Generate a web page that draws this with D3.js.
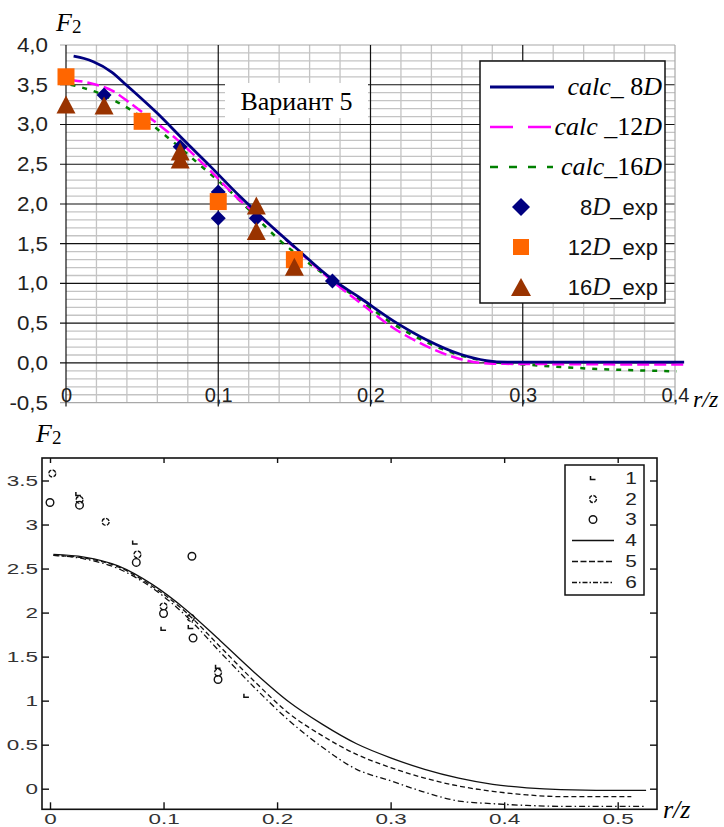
<!DOCTYPE html>
<html><head><meta charset="utf-8">
<script src="https://cdn.jsdelivr.net/npm/d3@7/dist/d3.min.js"></script>
<style>body{margin:0;background:#fff}</style>
</head><body><svg id="c" width="724" height="827"></svg>
<script>
// ===== TOP CHART DATA =====
const calc8D_r  = [0.005,0.012,0.018,0.03,0.04,0.06,0.077,0.095,0.114,0.125,0.136,0.149,0.175,0.193,0.215,0.237,0.259,0.276,0.29,0.35,0.406];
const calc8D_F  = [3.86,3.83,3.79,3.66,3.49,3.14,2.81,2.47,2.10,1.90,1.70,1.48,1.05,0.82,0.53,0.29,0.11,0.03,0.01,0.01,0.01];
const calc12D_r = [0.003,0.018,0.031,0.042,0.062,0.073,0.092,0.114,0.136,0.149,0.175,0.193,0.215,0.237,0.257,0.28,0.406];
const calc12D_F = [3.56,3.51,3.42,3.27,2.98,2.81,2.47,2.05,1.70,1.47,1.03,0.76,0.44,0.21,0.06,-0.01,-0.02];
const calc16D_r = [0.003,0.018,0.042,0.066,0.088,0.110,0.140,0.175,0.193,0.215,0.237,0.252,0.277,0.302,0.333,0.401];
const calc16D_F = [3.50,3.42,3.19,2.85,2.49,2.12,1.55,1.04,0.79,0.49,0.26,0.14,0.02,-0.02,-0.06,-0.105];
const exp8D_r  = [0.025,0.075,0.1,0.1,0.125,0.175];
const exp8D_F  = [3.37,2.72,2.15,1.82,1.82,1.03];
const exp12D_r = [0,0.05,0.1,0.15];
const exp12D_F = [3.60,3.04,2.03,1.30];
const exp16D_r = [0,0.025,0.075,0.075,0.125,0.125,0.15];
const exp16D_F = [3.25,3.24,2.66,2.56,1.98,1.66,1.21];
const topXTicks = [0,0.1,0.2,0.3,0.4];
const topXLabels = ["0","0,1","0,2","0,3","0,4"];
const topYTicks = [-0.5,0,0.5,1,1.5,2,2.5,3,3.5,4];
const topYLabels = ["-0,5","0,0","0,5","1,0","1,5","2,0","2,5","3,0","3,5","4,0"];

// ===== BOTTOM CHART DATA =====
const cB_r = [0.003,0.03,0.06,0.09,0.12,0.15,0.18,0.21,0.24,0.27,0.30,0.33,0.36,0.39,0.42,0.45,0.512,0.525];
const c4_F = [2.66,2.63,2.53,2.32,2.03,1.68,1.32,0.99,0.73,0.51,0.35,0.22,0.12,0.05,0.01,-0.01,-0.02,-0.02];
const c5_F = [2.65,2.62,2.52,2.30,2.00,1.61,1.22,0.86,0.60,0.39,0.24,0.12,0.03,-0.03,-0.07,-0.09,-0.09,null];
const c6_F = [2.65,2.61,2.50,2.28,1.96,1.55,1.15,0.78,0.47,0.22,0.09,-0.04,-0.14,-0.17,-0.19,-0.2,-0.2,-0.2];
const e1_r = [0.025,0.075,0.1,0.124,0.148,0.173];
const e1_F = [3.34,2.79,1.81,1.83,1.38,1.05];
const e2_r = [0.002,0.026,0.049,0.077,0.1,0.124,0.148];
const e2_F = [3.58,3.28,3.03,2.66,2.07,1.94,1.32];
const e3_r = [0,0.026,0.076,0.1,0.125,0.126,0.148];
const e3_F = [3.25,3.22,2.57,1.99,2.64,1.71,1.24];
const botXTicks = [0,0.1,0.2,0.3,0.4,0.5];
const botYTicks = [0,0.5,1,1.5,2,2.5,3,3.5];
const botLegend = ["1","2","3","4","5","6"];

const zip = (a,b) => a.map((v,i)=>[v,b[i]]).filter(d=>d[1]!==null);
const svg = d3.select("#c");
svg.append("rect").attr("width",724).attr("height",827).attr("fill","#fff");
const SANS = "'Liberation Sans', Arial, sans-serif";
const SERIF = "'Liberation Serif', 'Times New Roman', serif";

// ===== TOP CHART =====
const xT = d3.scaleLinear().domain([0,0.4]).range([66,675]);
const yT = d3.scaleLinear().domain([-0.5,4]).range([402.7,45]);
const gT = svg.append("g");
const minorX = d3.range(0,21).map(i=>i*0.02).filter((d,i)=>i%5!==0);
const minorY = d3.range(0,46).map(i=>-0.5+i*0.1).filter((d,i)=>i%5!==0);
gT.selectAll(".mx").data(minorX).join("line")
  .attr("x1",d=>xT(d)).attr("x2",d=>xT(d)).attr("y1",yT(4)).attr("y2",yT(-0.5))
  .attr("stroke","#c4c4c4").attr("stroke-width",1.3);
gT.selectAll(".my").data(minorY).join("line")
  .attr("x1",xT(0)).attr("x2",xT(0.4)).attr("y1",d=>yT(d)).attr("y2",d=>yT(d))
  .attr("stroke","#c4c4c4").attr("stroke-width",1.3);
gT.selectAll(".My").data(topYTicks).join("line")
  .attr("x1",60).attr("x2",xT(0.4)).attr("y1",d=>yT(d)).attr("y2",d=>yT(d))
  .attr("stroke",d=>(d===4||d===-0.5)?"#a8a8a8":"#111").attr("stroke-width",1.2);
gT.selectAll(".Mx").data(topXTicks).join("line")
  .attr("x1",d=>xT(d)).attr("x2",d=>xT(d)).attr("y1",yT(4)).attr("y2",d=>d===0.4?yT(-0.5):406.5)
  .attr("stroke",d=>d===0.4?"#a8a8a8":"#111").attr("stroke-width",1.2);

const yAx = gT.append("g").attr("transform",`translate(${xT(0)},0)`)
  .call(d3.axisLeft(yT).tickValues(topYTicks).tickSize(0).tickPadding(18).tickFormat((d,i)=>topYLabels[i]));
yAx.select(".domain").remove();
yAx.selectAll("text").attr("x",0).attr("transform","translate(-18,0) scale(1.12,1)")
  .attr("font-family",SANS).attr("font-size",20).attr("fill","#222");
const xAx = gT.append("g").attr("transform",`translate(0,${yT(-0.5)})`)
  .call(d3.axisBottom(xT).tickValues(topXTicks).tickSize(0).tickFormat((d,i)=>topXLabels[i]));
xAx.select(".domain").remove();
xAx.selectAll("text").attr("y",-8).attr("dy","0.35em")
  .attr("font-family",SANS).attr("font-size",20).attr("fill","#222");

gT.append("rect").attr("x",225).attr("y",83).attr("width",143).attr("height",35).attr("fill","#fff");
gT.append("text").attr("x",296.5).attr("y",110).attr("text-anchor","middle")
  .attr("font-family",SERIF).attr("font-size",26).attr("fill","#000").text("Вариант 5");

const lineT = d3.line().x(d=>xT(d[0])).y(d=>yT(d[1])).curve(d3.curveMonotoneX);
gT.append("path").attr("d",lineT(zip(calc16D_r,calc16D_F))).attr("fill","none")
  .attr("stroke","#008000").attr("stroke-width",2.5).attr("stroke-dasharray","5,7");
gT.append("path").attr("d",lineT(zip(calc12D_r,calc12D_F))).attr("fill","none")
  .attr("stroke","#ff00ff").attr("stroke-width",2.5).attr("stroke-dasharray","12,5");
gT.append("path").attr("d",lineT(zip(calc8D_r,calc8D_F))).attr("fill","none")
  .attr("stroke","#000080").attr("stroke-width",2.8);

const diamond = s => `M0,${-s}L${s},0L0,${s}L${-s},0Z`;
const square = s => `M${-s},${-s}h${2*s}v${2*s}h${-2*s}Z`;
const tri = (w,h) => `M0,${-h/2}L${w/2},${h/2}L${-w/2},${h/2}Z`;
gT.selectAll(".d8").data(zip(exp8D_r,exp8D_F)).join("path")
  .attr("transform",d=>`translate(${xT(d[0])},${yT(d[1])})`).attr("d",diamond(7.5)).attr("fill","#000080");
gT.selectAll(".s12").data(zip(exp12D_r,exp12D_F)).join("path")
  .attr("transform",d=>`translate(${xT(d[0])},${yT(d[1])})`).attr("d",square(8.5)).attr("fill","#ff6600");
gT.selectAll(".t16").data(zip(exp16D_r,exp16D_F)).join("path")
  .attr("transform",d=>`translate(${xT(d[0])},${yT(d[1])})`).attr("d",tri(19,18)).attr("fill","#993300");

const lg = gT.append("g");
lg.append("rect").attr("x",480).attr("y",61).attr("width",185).attr("height",242)
  .attr("fill","#fff").attr("stroke","#111").attr("stroke-width",1.5);
const legY = [87,127,167,207,247,287];
lg.append("line").attr("x1",490).attr("x2",554).attr("y1",legY[0]).attr("y2",legY[0]).attr("stroke","#000080").attr("stroke-width",3);
lg.append("line").attr("x1",490).attr("x2",552).attr("y1",legY[1]).attr("y2",legY[1]).attr("stroke","#ff00ff").attr("stroke-width",2.5).attr("stroke-dasharray","23,15");
lg.append("line").attr("x1",490).attr("x2",553).attr("y1",legY[2]).attr("y2",legY[2]).attr("stroke","#008000").attr("stroke-width",2.5).attr("stroke-dasharray","8,11");
const calcNames = [["calc","_ 8","D"],["calc"," _12","D"],["calc","_16","D"]];
calcNames.forEach((p,i)=>{
  const t = lg.append("text").attr("x",662).attr("y",legY[i]+8).attr("text-anchor","end")
    .attr("font-family",SERIF).attr("font-size",26).attr("fill","#000");
  t.append("tspan").attr("font-style","italic").text(p[0]);
  t.append("tspan").text(p[1]);
  t.append("tspan").attr("font-style","italic").text(p[2]);
});
lg.append("path").attr("transform",`translate(521,${legY[3]})`).attr("d",diamond(9)).attr("fill","#000080");
lg.append("path").attr("transform",`translate(521,${legY[4]})`).attr("d",square(8)).attr("fill","#ff6600");
lg.append("path").attr("transform",`translate(521,${legY[5]})`).attr("d",tri(20,18)).attr("fill","#993300");
const expNames = [["8","D","_exp"],["12","D","_exp"],["16","D","_exp"]];
expNames.forEach((p,i)=>{
  const t = lg.append("text").attr("x",658).attr("y",legY[3+i]+8).attr("text-anchor","end")
    .attr("font-family",SANS).attr("font-size",22).attr("fill","#111");
  t.append("tspan").text(p[0]);
  t.append("tspan").attr("font-family",SERIF).attr("font-style","italic").attr("font-size",25).text(p[1]);
  t.append("tspan").text(p[2]);
});

const f1 = svg.append("text").attr("x",56).attr("y",31).attr("font-family",SERIF).attr("font-size",26);
f1.append("tspan").attr("font-style","italic").text("F");
f1.append("tspan").attr("font-size",19).attr("dy",2).text("2");
svg.append("text").attr("x",693).attr("y",407).attr("font-family",SERIF).attr("font-size",24)
  .attr("font-style","italic").text("r/z");

// ===== BOTTOM CHART =====
const xB = d3.scaleLinear().domain([0,0.5]).range([50,617.7]);
const yB = d3.scaleLinear().domain([0,3.5]).range([788.7,480.5]);
const bx0=42,bx1=657,by0=458,by1=809.3;
const gB = svg.append("g");
const fmtB = d => String(d);
const axL = gB.append("g").attr("transform",`translate(${bx0},0)`)
  .call(d3.axisLeft(yB).tickValues(botYTicks).tickSizeInner(-7).tickSizeOuter(0).tickPadding(4).tickFormat(fmtB));
const axR = gB.append("g").attr("transform",`translate(${bx1},0)`)
  .call(d3.axisRight(yB).tickValues(botYTicks).tickSizeInner(-7).tickSizeOuter(0).tickFormat(""));
const axBt = gB.append("g").attr("transform",`translate(0,${by1})`)
  .call(d3.axisBottom(xB).tickValues(botXTicks).tickSizeInner(-7).tickSizeOuter(0).tickPadding(4).tickFormat(fmtB));
const axTp = gB.append("g").attr("transform",`translate(0,${by0})`)
  .call(d3.axisTop(xB).tickValues(botXTicks).tickSizeInner(-5).tickSizeOuter(0).tickFormat(""));
[axL,axR,axBt,axTp].forEach(a=>{a.select(".domain").remove(); a.selectAll("line").attr("stroke","#111").attr("stroke-width",1.4);});
axL.selectAll("text").attr("x",0).attr("transform","translate(-4,0) scale(1.45,1)")
  .attr("font-family",SANS).attr("font-size",15.5).attr("fill","#333");
axBt.selectAll("text").attr("transform","scale(1.45,1)")
  .attr("font-family",SANS).attr("font-size",15.5).attr("fill","#333");
gB.append("rect").attr("x",bx0).attr("y",by0).attr("width",bx1-bx0).attr("height",by1-by0)
  .attr("fill","none").attr("stroke","#111").attr("stroke-width",1.6);

const lineB = d3.line().x(d=>xB(d[0])).y(d=>yB(d[1])).curve(d3.curveMonotoneX);
gB.append("path").attr("d",lineB(zip(cB_r,c4_F))).attr("fill","none").attr("stroke","#111").attr("stroke-width",1.3);
gB.append("path").attr("d",lineB(zip(cB_r,c5_F))).attr("fill","none").attr("stroke","#111").attr("stroke-width",1.3).attr("stroke-dasharray","5,3");
gB.append("path").attr("d",lineB(zip(cB_r,c6_F))).attr("fill","none").attr("stroke","#111").attr("stroke-width",1.3).attr("stroke-dasharray","6,3,1.5,3");

const sym1 = "M-2.5,-2.5L-2.5,1L2.5,1";
gB.selectAll(".e1").data(zip(e1_r,e1_F)).join("path")
  .attr("transform",d=>`translate(${xB(d[0])},${yB(d[1])})`).attr("d",sym1)
  .attr("fill","none").attr("stroke","#111").attr("stroke-width",1.5);
gB.selectAll(".e2").data(zip(e2_r,e2_F)).join("circle")
  .attr("cx",d=>xB(d[0])).attr("cy",d=>yB(d[1])).attr("r",3.5)
  .attr("fill","none").attr("stroke","#111").attr("stroke-width",1.4).attr("stroke-dasharray","4,1.5");
gB.selectAll(".e3").data(zip(e3_r,e3_F)).join("circle")
  .attr("cx",d=>xB(d[0])).attr("cy",d=>yB(d[1])).attr("r",3.8)
  .attr("fill","none").attr("stroke","#111").attr("stroke-width",1.4);

const lb = gB.append("g");
lb.append("rect").attr("x",565).attr("y",465).attr("width",79).attr("height",130)
  .attr("fill","#fff").attr("stroke","#111").attr("stroke-width",1.5);
const lbY = [478.5,499,519.5,540.5,561.5,582.5];
lb.append("path").attr("transform",`translate(593,${lbY[0]})`).attr("d",sym1).attr("fill","none").attr("stroke","#111").attr("stroke-width",1.5);
lb.append("circle").attr("cx",593).attr("cy",lbY[1]).attr("r",3.5).attr("fill","none").attr("stroke","#111").attr("stroke-width",1.4).attr("stroke-dasharray","4,1.5");
lb.append("circle").attr("cx",593).attr("cy",lbY[2]).attr("r",3.8).attr("fill","none").attr("stroke","#111").attr("stroke-width",1.4);
lb.append("line").attr("x1",572).attr("x2",614).attr("y1",lbY[3]).attr("y2",lbY[3]).attr("stroke","#111").attr("stroke-width",1.4);
lb.append("line").attr("x1",572).attr("x2",614).attr("y1",lbY[4]).attr("y2",lbY[4]).attr("stroke","#111").attr("stroke-width",1.4).attr("stroke-dasharray","6,2.5");
lb.append("line").attr("x1",572).attr("x2",614).attr("y1",lbY[5]).attr("y2",lbY[5]).attr("stroke","#111").attr("stroke-width",1.4).attr("stroke-dasharray","5,2,1.5,2");
lb.selectAll(".ln").data(botLegend).join("text")
  .attr("transform",(d,i)=>`translate(631,${lbY[i]}) scale(1.3,1)`).attr("text-anchor","middle").attr("dy","0.36em")
  .attr("font-family",SANS).attr("font-size",16).attr("fill","#222").text(d=>d);

const f2 = svg.append("text").attr("x",36).attr("y",442).attr("font-family",SERIF).attr("font-size",26);
f2.append("tspan").attr("font-style","italic").text("F");
f2.append("tspan").attr("font-size",19).attr("dy",2).text("2");
svg.append("text").attr("x",663).attr("y",818).attr("font-family",SERIF).attr("font-size",26)
  .attr("font-style","italic").text("r/z");
</script></body></html>
